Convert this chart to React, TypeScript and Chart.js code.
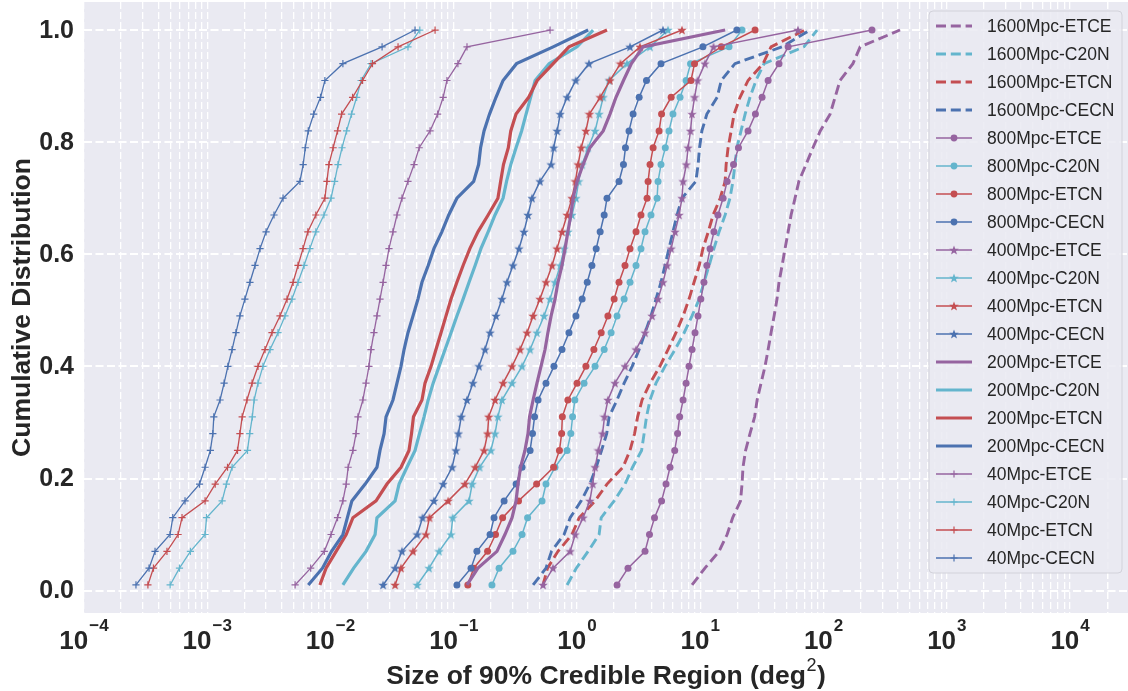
import React, { useEffect, useRef } from 'react';
import { Chart, registerables } from 'chart.js';

Chart.register(...registerables);

// Cumulative fraction levels shared by all curves
const CDF_LEVELS = [0.01, 0.04, 0.07, 0.10, 0.13, 0.16, 0.19, 0.22, 0.25, 0.28, 0.31, 0.34, 0.37, 0.40, 0.43, 0.46, 0.49, 0.52, 0.55, 0.58, 0.61, 0.64, 0.67, 0.70, 0.73, 0.76, 0.79, 0.82, 0.85, 0.88, 0.91, 0.94, 0.97, 1.00];

// Size of 90% credible region (deg^2) at each CDF level
const A_1600_ETCE = [8.57, 10.9, 14.2, 16.5, 18.3, 21.2, 21.8, 22.2, 23.3, 25.3, 27.6, 28.9, 31.1, 33.5, 35.5, 37.5, 39.7, 41.9, 43.5, 46.1, 48.7, 51.6, 54.5, 58.7, 63, 72, 82, 94, 113, 124, 136, 173, 198, 417];
const A_1600_C20N = [0.83, 0.986, 1.23, 1.51, 1.57, 2.0, 2.45, 2.82, 3.34, 3.5, 3.66, 3.91, 4.37, 5.17, 6.24, 7.4, 8.57, 9.8, 10.7, 11.8, 12.9, 14.2, 15.9, 17.4, 18.4, 19.1, 19.8, 21.4, 23.1, 25.3, 28.3, 32.9, 69.3, 88.5];
const A_1600_ETCN = [0.53, 0.576, 0.70, 0.91, 1.04, 1.4, 1.75, 2.36, 2.69, 2.93, 3.1, 3.37, 3.91, 4.7, 5.47, 6.35, 7.25, 8.1, 8.9, 9.8, 10.5, 11.6, 12.7, 14.5, 15.9, 16.2, 16.8, 17.8, 18.8, 21.0, 24.4, 32.3, 37.5, 70.6];
const A_1600_CECN = [0.44, 0.56, 0.62, 0.785, 0.88, 1.08, 1.27, 1.43, 1.58, 1.74, 1.82, 2.11, 2.41, 2.8, 3.19, 3.56, 3.98, 4.37, 4.8, 5.17, 5.57, 6.0, 6.47, 7.1, 9.2, 9.6, 9.86, 10.3, 11.3, 13.7, 14.8, 19.1, 46, 77.8];
const A_800_ETCE = [2.11, 2.59, 3.56, 3.87, 4.25, 4.85, 5.27, 5.68, 6.2, 6.54, 6.8, 7.25, 7.67, 8.1, 8.57, 9.06, 9.58, 10.1, 10.7, 11.3, 12.0, 12.9, 13.9, 15.3, 16.5, 18.6, 20.4, 24.4, 28.0, 31.7, 35.5, 43.5, 51.6, 247];
const A_800_C20N = [0.204, 0.233, 0.302, 0.358, 0.397, 0.52, 0.56, 0.663, 0.83, 0.89, 0.92, 0.96, 1.14, 1.4, 1.66, 1.89, 2.11, 2.41, 2.69, 3.01, 3.3, 3.56, 3.98, 4.46, 4.54, 4.8, 5.2, 5.57, 6.0, 6.85, 7.67, 8.33, 17.1, 21.8];
const A_800_ETCN = [0.13, 0.145, 0.188, 0.218, 0.249, 0.335, 0.47, 0.645, 0.72, 0.75, 0.76, 0.843, 1.0, 1.18, 1.37, 1.57, 1.78, 2.0, 2.19, 2.45, 2.69, 3.01, 3.3, 3.7, 3.77, 3.91, 4.14, 4.63, 4.85, 5.8, 8.4, 8.98, 14.8, 27.8];
const A_800_CECN = [0.106, 0.138, 0.154, 0.197, 0.212, 0.256, 0.32, 0.358, 0.416, 0.435, 0.452, 0.483, 0.56, 0.65, 0.755, 0.86, 0.98, 1.1, 1.21, 1.32, 1.43, 1.54, 1.66, 1.75, 2.19, 2.38, 2.47, 2.64, 2.85, 3.19, 3.66, 4.8, 10.5, 19.8];
const A_400_ETCE = [0.53, 0.638, 0.88, 0.967, 1.12, 1.27, 1.34, 1.4, 1.49, 1.61, 1.67, 1.78, 2.03, 2.45, 3.01, 3.56, 4.06, 4.54, 4.98, 5.38, 5.8, 6.24, 6.73, 7.1, 7.25, 7.7, 7.96, 8.33, 8.57, 8.98, 9.5, 10.9, 12.8, 62];
const A_400_C20N = [0.0505, 0.063, 0.076, 0.095, 0.098, 0.133, 0.141, 0.162, 0.2, 0.216, 0.228, 0.246, 0.297, 0.358, 0.416, 0.473, 0.54, 0.604, 0.663, 0.73, 0.785, 0.843, 0.91, 0.98, 1.03, 1.1, 1.23, 1.4, 1.51, 1.63, 1.82, 2.54, 3.91, 5.47];
const A_400_ETCN = [0.0334, 0.0373, 0.0467, 0.0595, 0.0635, 0.09, 0.123, 0.149, 0.176, 0.188, 0.192, 0.216, 0.251, 0.297, 0.345, 0.393, 0.44, 0.5, 0.56, 0.627, 0.688, 0.755, 0.83, 0.91, 0.97, 1.02, 1.08, 1.18, 1.26, 1.54, 1.85, 2.25, 3.24, 7.1];
const A_400_CECN = [0.0267, 0.0334, 0.038, 0.0505, 0.0558, 0.069, 0.082, 0.097, 0.104, 0.109, 0.115, 0.128, 0.143, 0.16, 0.179, 0.197, 0.22, 0.246, 0.27, 0.302, 0.338, 0.371, 0.40, 0.431, 0.50, 0.616, 0.646, 0.69, 0.73, 0.83, 0.975, 1.25, 2.69, 4.98];
const A_200_ETCE = [0.128, 0.157, 0.224, 0.26, 0.297, 0.32, 0.332, 0.348, 0.378, 0.40, 0.412, 0.44, 0.473, 0.51, 0.55, 0.58, 0.616, 0.663, 0.70, 0.755, 0.80, 0.843, 0.89, 0.928, 1.0, 1.12, 1.27, 1.63, 1.85, 2.07, 2.38, 2.76, 3.43, 15.9];
const A_200_C20N = [0.0126, 0.0154, 0.0194, 0.023, 0.0238, 0.0334, 0.036, 0.0417, 0.0485, 0.0527, 0.0574, 0.062, 0.068, 0.076, 0.085, 0.095, 0.106, 0.119, 0.133, 0.149, 0.166, 0.19, 0.216, 0.251, 0.268, 0.29, 0.32, 0.355, 0.386, 0.42, 0.457, 0.593, 1.0, 1.35];
const A_200_ETCN = [0.0082, 0.0092, 0.0111, 0.0134, 0.0152, 0.0234, 0.0287, 0.0373, 0.0433, 0.0454, 0.0471, 0.0552, 0.0584, 0.0654, 0.0717, 0.0788, 0.0865, 0.095, 0.106, 0.119, 0.135, 0.157, 0.19, 0.228, 0.24, 0.253, 0.277, 0.29, 0.32, 0.405, 0.475, 0.64, 0.86, 1.75];
const A_200_CECN = [0.0066, 0.0086, 0.0102, 0.0126, 0.0137, 0.0149, 0.0191, 0.0238, 0.0252, 0.0272, 0.0282, 0.0321, 0.0346, 0.0373, 0.0395, 0.0425, 0.0467, 0.0512, 0.0552, 0.062, 0.069, 0.08, 0.091, 0.106, 0.145, 0.159, 0.165, 0.176, 0.195, 0.22, 0.251, 0.323, 0.64, 1.23];
const A_40_ETCE = [0.00516, 0.0069, 0.0089, 0.0101, 0.0114, 0.0126, 0.0134, 0.0139, 0.0152, 0.0161, 0.0167, 0.0183, 0.0194, 0.0205, 0.0213, 0.0225, 0.0238, 0.0252, 0.0267, 0.0282, 0.0298, 0.0321, 0.0346, 0.038, 0.0425, 0.0476, 0.0524, 0.0642, 0.074, 0.082, 0.088, 0.108, 0.128, 0.604];
const A_40_C20N = [0.0005, 0.000595, 0.00073, 0.00096, 0.000986, 0.00132, 0.00143, 0.00159, 0.00212, 0.00221, 0.00232, 0.0024, 0.00258, 0.00283, 0.00323, 0.00375, 0.00427, 0.00487, 0.00545, 0.0061, 0.0068, 0.0076, 0.00885, 0.0101, 0.0108, 0.0115, 0.0124, 0.0135, 0.0148, 0.0163, 0.0177, 0.0213, 0.0425, 0.053];
const A_40_ETCN = [0.00033, 0.000366, 0.000471, 0.00058, 0.000624, 0.00096, 0.00116, 0.00146, 0.00176, 0.00184, 0.00192, 0.0021, 0.00231, 0.00258, 0.00294, 0.00335, 0.00389, 0.00444, 0.00497, 0.00545, 0.00598, 0.00655, 0.0076, 0.009, 0.00935, 0.0097, 0.0105, 0.0114, 0.0123, 0.0151, 0.0182, 0.0219, 0.0353, 0.0705];
const A_40_CECN = [0.000264, 0.000337, 0.000377, 0.000499, 0.000525, 0.00066, 0.000865, 0.00096, 0.00106, 0.00111, 0.00113, 0.00127, 0.00137, 0.00147, 0.00159, 0.00171, 0.00184, 0.00202, 0.00222, 0.00244, 0.00268, 0.003, 0.00348, 0.00412, 0.00565, 0.006, 0.00624, 0.0066, 0.0073, 0.0083, 0.009, 0.0126, 0.0262, 0.0485];

const Y_TICKS = [0, 0.2, 0.4, 0.6, 0.8, 1.0];
const X_DECADES = [-4, -3, -2, -1, 0, 1, 2, 3, 4];

const PURPLE = '#9664A0';
const CYAN = '#64B5CD';
const RED = '#C44E52';
const BLUE = '#4C72B0';

type Kind = 'dash' | 'circle' | 'star' | 'thick' | 'plus';

const SERIES: { label: string; color: string; kind: Kind; values: number[] }[] = [
  { label: '1600Mpc-ETCE', color: PURPLE, kind: 'dash', values: A_1600_ETCE },
  { label: '1600Mpc-C20N', color: CYAN, kind: 'dash', values: A_1600_C20N },
  { label: '1600Mpc-ETCN', color: RED, kind: 'dash', values: A_1600_ETCN },
  { label: '1600Mpc-CECN', color: BLUE, kind: 'dash', values: A_1600_CECN },
  { label: '800Mpc-ETCE', color: PURPLE, kind: 'circle', values: A_800_ETCE },
  { label: '800Mpc-C20N', color: CYAN, kind: 'circle', values: A_800_C20N },
  { label: '800Mpc-ETCN', color: RED, kind: 'circle', values: A_800_ETCN },
  { label: '800Mpc-CECN', color: BLUE, kind: 'circle', values: A_800_CECN },
  { label: '400Mpc-ETCE', color: PURPLE, kind: 'star', values: A_400_ETCE },
  { label: '400Mpc-C20N', color: CYAN, kind: 'star', values: A_400_C20N },
  { label: '400Mpc-ETCN', color: RED, kind: 'star', values: A_400_ETCN },
  { label: '400Mpc-CECN', color: BLUE, kind: 'star', values: A_400_CECN },
  { label: '200Mpc-ETCE', color: PURPLE, kind: 'thick', values: A_200_ETCE },
  { label: '200Mpc-C20N', color: CYAN, kind: 'thick', values: A_200_C20N },
  { label: '200Mpc-ETCN', color: RED, kind: 'thick', values: A_200_ETCN },
  { label: '200Mpc-CECN', color: BLUE, kind: 'thick', values: A_200_CECN },
  { label: '40Mpc-ETCE', color: PURPLE, kind: 'plus', values: A_40_ETCE },
  { label: '40Mpc-C20N', color: CYAN, kind: 'plus', values: A_40_C20N },
  { label: '40Mpc-ETCN', color: RED, kind: 'plus', values: A_40_ETCN },
  { label: '40Mpc-CECN', color: BLUE, kind: 'plus', values: A_40_CECN },
];

const FONT = '"Liberation Sans", Arial, Helvetica, sans-serif';
const TEXT = '#262626';
const DASH = [10, 4.8];

function makeStar(color: string, size: number): HTMLCanvasElement {
  const c = document.createElement('canvas');
  c.width = size;
  c.height = size;
  const ctx = c.getContext('2d')!;
  ctx.fillStyle = color;
  ctx.beginPath();
  const cx = size / 2, cy = size / 2 + 0.4, R = size / 2, r = R * 0.42;
  for (let i = 0; i < 10; i++) {
    const a = -Math.PI / 2 + (i * Math.PI) / 5;
    const rad = i % 2 === 0 ? R : r;
    const px = cx + rad * Math.cos(a);
    const py = cy + rad * Math.sin(a);
    if (i === 0) ctx.moveTo(px, py); else ctx.lineTo(px, py);
  }
  ctx.closePath();
  ctx.fill();
  return c;
}

function drawMarker(ctx: CanvasRenderingContext2D, kind: Kind, color: string, x: number, y: number, star?: HTMLCanvasElement) {
  if (kind === 'circle') {
    ctx.fillStyle = color;
    ctx.beginPath();
    ctx.arc(x, y, 3.4, 0, Math.PI * 2);
    ctx.fill();
  } else if (kind === 'star' && star) {
    ctx.drawImage(star, x - star.width / 2, y - star.height / 2);
  } else if (kind === 'plus') {
    ctx.strokeStyle = color;
    ctx.lineWidth = 1.2;
    ctx.setLineDash([]);
    ctx.beginPath();
    ctx.moveTo(x - 3.5, y); ctx.lineTo(x + 3.5, y);
    ctx.moveTo(x, y - 3.5); ctx.lineTo(x, y + 3.5);
    ctx.stroke();
  }
}

export default function App() {
  const ref = useRef<HTMLCanvasElement | null>(null);

  useEffect(() => {
    document.body.style.margin = '0';
    const canvas = ref.current;
    if (!canvas) return;

    const stars: Record<string, HTMLCanvasElement> = {};
    [PURPLE, CYAN, RED, BLUE].forEach((c) => { stars[c] = makeStar(c, 10); });

    const datasets = SERIES.map((s, i) => {
      const base: any = {
        label: s.label,
        data: s.values.map((v, k) => ({ x: v, y: CDF_LEVELS[k] })),
        borderColor: s.color,
        backgroundColor: s.color,
        fill: false,
        tension: 0,
        order: SERIES.length - i,
        pointHoverRadius: 0,
      };
      if (s.kind === 'dash') {
        Object.assign(base, { borderWidth: 2.9, borderDash: DASH, pointRadius: 0 });
      } else if (s.kind === 'thick') {
        Object.assign(base, { borderWidth: 3.2, pointRadius: 0 });
      } else if (s.kind === 'circle') {
        Object.assign(base, { borderWidth: 1.5, pointStyle: 'circle', pointRadius: 3.5, pointBackgroundColor: s.color, pointBorderWidth: 0 });
      } else if (s.kind === 'star') {
        Object.assign(base, { borderWidth: 1.5, pointStyle: stars[s.color], pointRadius: 5 });
      } else {
        Object.assign(base, { borderWidth: 1.3, pointStyle: 'cross', pointRadius: 3.6, pointBorderColor: s.color, pointBorderWidth: 1.2 });
      }
      return base;
    });

    const xGrid: number[] = [];
    for (let e = -4; e <= 4; e++) {
      for (let m = 1; m <= 9; m++) xGrid.push(m * Math.pow(10, e));
    }
    xGrid.push(2e4);

    const bgPlugin = {
      id: 'bgPlugin',
      beforeDraw(chart: any) {
        const { ctx, chartArea: a } = chart;
        ctx.save();
        ctx.fillStyle = '#ffffff';
        ctx.fillRect(0, 0, chart.width, chart.height);
        ctx.fillStyle = '#EAEAF2';
        ctx.fillRect(a.left, a.top, a.right - a.left, a.bottom - a.top);
        ctx.restore();
      },
    };

    const textPlugin = {
      id: 'textPlugin',
      afterDraw(chart: any) {
        const { ctx, chartArea: a } = chart;
        const xs = chart.scales.x;
        const ys = chart.scales.y;
        ctx.save();
        ctx.fillStyle = TEXT;
        // y tick labels
        ctx.textAlign = 'right';
        ctx.textBaseline = 'middle';
        ctx.font = `bold 25px ${FONT}`;
        Y_TICKS.forEach((v) => {
          ctx.fillText(v.toFixed(1), a.left - 10, ys.getPixelForValue(v) + 1);
        });
        ctx.textBaseline = 'alphabetic';
        ctx.textAlign = 'left';
        // x tick labels 10^k
        X_DECADES.forEach((e) => {
          const px = xs.getPixelForValue(Math.pow(10, e));
          const sup = e < 0 ? '\u2212' + String(-e) : String(e);
          ctx.font = `bold 26px ${FONT}`;
          const w1 = ctx.measureText('10').width;
          ctx.font = `bold 17px ${FONT}`;
          const w2 = ctx.measureText(sup).width;
          const start = px - (w1 + w2 + 1) / 2;
          ctx.font = `bold 26px ${FONT}`;
          ctx.fillText('10', start, 649);
          ctx.font = `bold 17px ${FONT}`;
          ctx.fillText(sup, start + w1 + 1, 631);
        });
        // x title
        const t1 = 'Size of 90% Credible Region (deg';
        ctx.font = `bold 26.5px ${FONT}`;
        const tw1 = ctx.measureText(t1).width;
        const tw3 = ctx.measureText(')').width;
        ctx.font = `18px ${FONT}`;
        const tw2 = ctx.measureText('2').width;
        const cx = (a.left + a.right) / 2;
        const sx = cx - (tw1 + tw2 + tw3 + 1) / 2;
        ctx.font = `bold 26.5px ${FONT}`;
        ctx.fillText(t1, sx, 684);
        ctx.font = `18px ${FONT}`;
        ctx.fillText('2', sx + tw1 + 0.5, 671);
        ctx.font = `bold 26.5px ${FONT}`;
        ctx.fillText(')', sx + tw1 + tw2 + 1, 684);
        // y title
        ctx.translate(23, (a.top + a.bottom) / 2);
        ctx.rotate(-Math.PI / 2);
        ctx.textAlign = 'center';
        ctx.textBaseline = 'middle';
        ctx.font = `bold 26.5px ${FONT}`;
        ctx.fillText('Cumulative Distribution', 0, 0);
        ctx.restore();
      },
    };

    const legendPlugin = {
      id: 'legendPlugin',
      afterDraw(chart: any) {
        const { ctx, chartArea: a } = chart;
        const left = 929;
        const top = a.top + 9;
        const w = 193;
        const h = 562;
        ctx.save();
        ctx.beginPath();
        if ((ctx as any).roundRect) (ctx as any).roundRect(left, top, w, h, 4); else ctx.rect(left, top, w, h);
        ctx.fillStyle = 'rgba(234,234,242,0.85)';
        ctx.fill();
        ctx.strokeStyle = '#D2D2DA';
        ctx.lineWidth = 1;
        ctx.stroke();
        SERIES.forEach((s, i) => {
          const y = top + 15 + i * 28;
          const x0 = left + 7;
          const x1 = left + 43;
          ctx.strokeStyle = s.color;
          ctx.lineCap = 'butt';
          if (s.kind === 'dash') { ctx.lineWidth = 2.9; ctx.setLineDash(DASH); }
          else if (s.kind === 'thick') { ctx.lineWidth = 3.2; ctx.setLineDash([]); }
          else { ctx.lineWidth = 1.5; ctx.setLineDash([]); }
          ctx.beginPath();
          ctx.moveTo(x0, y);
          ctx.lineTo(x1, y);
          ctx.stroke();
          ctx.setLineDash([]);
          drawMarker(ctx, s.kind, s.color, (x0 + x1) / 2, y, stars[s.color]);
          ctx.fillStyle = TEXT;
          ctx.font = `17.5px ${FONT}`;
          ctx.textAlign = 'left';
          ctx.textBaseline = 'middle';
          ctx.fillText(s.label, left + 58, y + 1);
        });
        ctx.restore();
      },
    };

    const chart = new Chart(canvas, {
      type: 'line',
      data: { datasets },
      options: {
        responsive: false,
        animation: false,
        events: [],
        layout: { autoPadding: false, padding: { top: 2, right: 0, left: 0, bottom: 0 } },
        plugins: { legend: { display: false }, tooltip: { enabled: false } },
        scales: {
          x: {
            type: 'logarithmic',
            min: 1e-4,
            max: 2.95e4,
            afterBuildTicks: (s: any) => { s.ticks = xGrid.map((v) => ({ value: v })); },
            afterFit: (s: any) => { s.height = 78; s.paddingLeft = 0; s.paddingRight = 0; },
            ticks: { display: false },
            grid: { color: '#ffffff', lineWidth: 1.3, drawTicks: false },
            border: { display: false, dash: [7, 3] },
          },
          y: {
            type: 'linear',
            min: -0.04,
            max: 1.05,
            afterBuildTicks: (s: any) => { s.ticks = Y_TICKS.map((v) => ({ value: v })); },
            afterFit: (s: any) => { s.width = 84; s.paddingTop = 0; s.paddingBottom = 0; },
            ticks: { display: false },
            grid: { color: '#ffffff', lineWidth: 1.9, drawTicks: false },
            border: { display: false, dash: [8, 3.5] },
          },
        },
      } as any,
      plugins: [bgPlugin, textPlugin, legendPlugin],
    });

    return () => chart.destroy();
  }, []);

  return (
    <div style={{ width: 1128, height: 691 }}>
      <canvas ref={ref} width={1128} height={691} style={{ display: 'block', width: 1128, height: 691 }} />
    </div>
  );
}
